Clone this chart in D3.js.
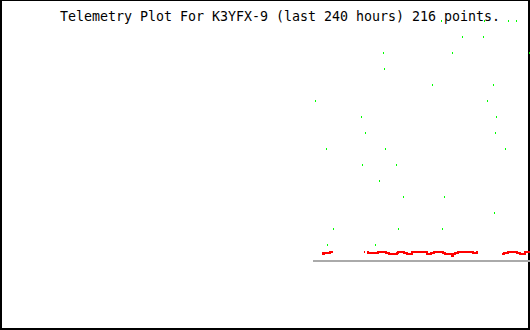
<!DOCTYPE html>
<html>
<head>
<meta charset="utf-8">
<script src="https://cdn.jsdelivr.net/npm/d3@7"></script>
<style>
  html, body { margin: 0; padding: 0; background: #fff; }
  svg { display: block; }
</style>
</head>
<body>
<div id="chart"></div>
<script>
// Telemetry plot, last 240 hours. Time is in hours from the start of the window.
var title = "Telemetry Plot For K3YFX-9 (last 240 hours) 216 points.";

// green channel: discrete readings [hour, value]
var greenHours = [199.7, 219.2, 230.0, 233.7, 209.2, 218.7, 173.4, 204.7, 239.5, 173.9,
  195.6, 223.2, 142.6, 220.5, 163.5, 224.6, 165.3, 224.1, 147.6, 174.3,
  228.7, 163.9, 179.3, 171.6, 182.5, 201.0, 223.7, 150.8, 180.2, 200.1,
  148.1, 169.8];
var greenValues = [15, 15, 15, 15, 14, 14, 13, 13, 13, 12,
  11, 11, 10, 10, 9, 9, 8, 8, 7, 7,
  7, 6, 6, 5, 4, 4, 3, 2, 2, 2,
  1, 1];

// red channel: readings, null marks a gap in the data
var redHours = [145.8, 146.3, 146.7, 149.4, 150.7, 150.8,
  164.8, 165.5, 165.6,
  166.2, 166.6, 171.2, 174.8, 176.3, 179.6, 180.4, 183.1, 184.2, 186.7,
  193.2, 195.2, 196.5, 200.5, 201.5, 204.5, 205.3, 206.0, 207.5, 214.3,
  215.9, 216.3, 216.4,
  227.3, 228.2, 230.2, 234.0, 235.5, 237.7, 240.0];
var redValues = [0.50, 0.42, 0.50, 0.56, 0.56, null,
  0.56, 0.56, null,
  0.56, 0.50, 0.56, 0.50, 0.42, 0.50, 0.56, 0.50, 0.42, 0.56,
  0.42, 0.50, 0.56, 0.50, 0.42, 0.28, 0.42, 0.50, 0.56, 0.50,
  0.56, 0.56, null,
  0.45, 0.50, 0.56, 0.50, 0.42, 0.56, 0.56];

// span covered by the data (drawn as the grey base line)
var baseHours = [141.7, 240];

var W = 530, H = 330;

var svg = d3.select("#chart").append("svg")
  .attr("width", W)
  .attr("height", H);

svg.append("rect")
  .attr("width", W).attr("height", H)
  .attr("fill", "#fff");

var x = d3.scaleLinear().domain([0, 240]).range([0, 530]);
var y = d3.scaleLinear().domain([0, 15]).range([260.7, 20.7]);

// frame
var frame = [[0, 0, 2, H], [0, 0, W, 1], [W - 2, 0, 2, H], [0, H - 2, W, 2]];
svg.selectAll("rect.frame")
  .data(frame)
  .enter().append("rect")
  .attr("class", "frame")
  .attr("x", function(d) { return d[0]; })
  .attr("y", function(d) { return d[1]; })
  .attr("width", function(d) { return d[2]; })
  .attr("height", function(d) { return d[3]; })
  .attr("fill", "#000");

svg.append("text")
  .attr("x", 60)
  .attr("y", 21)
  .attr("font-family", "'DejaVu Sans Mono', monospace")
  .attr("font-size", "13.3px")
  .attr("textLength", 440)
  .attr("lengthAdjust", "spacing")
  .attr("fill", "#000")
  .text(title);

// base line
svg.append("line")
  .attr("x1", x(baseHours[0]))
  .attr("x2", x(baseHours[1]))
  .attr("y1", y(0))
  .attr("y2", y(0))
  .attr("stroke", "#aaa")
  .attr("stroke-width", 2)
  .attr("shape-rendering", "crispEdges");

// red series
var red = redHours.map(function(h, i) { return { h: h, v: redValues[i] }; });
var line = d3.line()
  .defined(function(d) { return d.v !== null; })
  .x(function(d) { return x(d.h); })
  .y(function(d) { return y(d.v); })
  .curve(d3.curveStepAfter);

svg.append("path")
  .datum(red)
  .attr("d", line)
  .attr("fill", "none")
  .attr("stroke", "#f00")
  .attr("stroke-width", 2)
  .attr("shape-rendering", "crispEdges");

// green points
var green = greenHours.map(function(h, i) { return { h: h, v: greenValues[i] }; });
svg.selectAll("rect.pt")
  .data(green)
  .enter().append("rect")
  .attr("class", "pt")
  .attr("x", function(d) { return Math.round(x(d.h)); })
  .attr("y", function(d) { return Math.round(y(d.v)) - 1; })
  .attr("width", 1)
  .attr("height", 2)
  .attr("fill", "#0f0");
</script>
</body>
</html>
